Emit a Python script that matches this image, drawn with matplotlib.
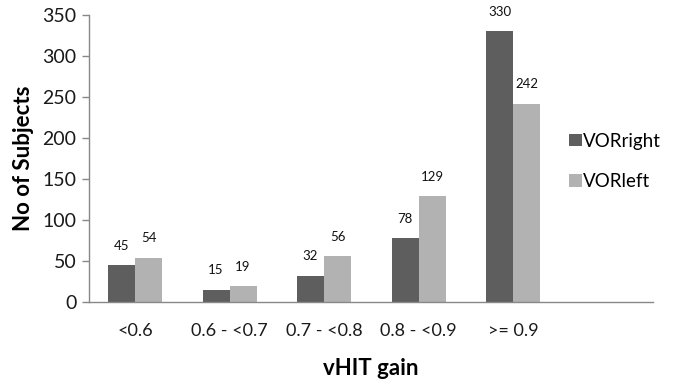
import matplotlib
matplotlib.use("Agg")
import matplotlib.pyplot as plt
import numpy as np

categories = ["<0.6", "0.6 - <0.7", "0.7 - <0.8", "0.8 - <0.9", ">= 0.9"]
vor_right = [45, 15, 32, 78, 330]
vor_left = [54, 19, 56, 129, 242]
series_names = ["VORright", "VORleft"]
y_ticks = [0, 50, 100, 150, 200, 250, 300, 350]

plt.rcParams['font.family'] = ['Lato', 'DejaVu Sans']

fig = plt.figure(figsize=(6.73, 3.86), dpi=100)
ax = fig.add_axes([0.132, 0.2176, 0.838, 0.7434])

x = np.arange(len(categories))
w = 0.286
c_dark = "#5e5e5e"
c_light = "#b2b2b2"
b1 = ax.bar(x - w/2, vor_right, w, color=c_dark, label=series_names[0])
b2 = ax.bar(x + w/2, vor_left, w, color=c_light, label=series_names[1])

for bars, vals in ((b1, vor_right), (b2, vor_left)):
    for r, v in zip(bars, vals):
        ax.annotate(str(v), (r.get_x() + r.get_width()/2, v), xytext=(0, 14),
                    textcoords="offset points", ha="center", va="center",
                    fontsize=9.5, color="#111111")

ax.set_xlim(-0.49, 5.48)
ax.set_ylim(0, 350)
ax.set_yticks(y_ticks)
ax.set_yticklabels([str(t) for t in y_ticks], fontsize=14, color="#1a1a1a")
ax.set_xticks(x)
ax.set_xticklabels(categories, fontsize=13, color="#1a1a1a")
ax.tick_params(axis="x", length=0, pad=15)
ax.tick_params(axis="y", length=5, width=1, color="#888888", direction="out", pad=4)

for s in ["top", "right"]:
    ax.spines[s].set_visible(False)
for s in ["left", "bottom"]:
    ax.spines[s].set_color("#888888")
    ax.spines[s].set_linewidth(1)

ax.set_ylabel("No of Subjects", fontsize=16, fontweight="bold", labelpad=6)
ax.set_xlabel("vHIT gain", fontsize=16, fontweight="bold", labelpad=14)

leg = fig.legend(loc="center left", bbox_to_anchor=(0.846, 1 - 161.5/386), frameon=False,
                 fontsize=13.5, handlelength=0.65, handleheight=0.65,
                 handletextpad=0.1, labelspacing=1.25, borderpad=0, borderaxespad=0)

fig.savefig("out.png", dpi=100)
